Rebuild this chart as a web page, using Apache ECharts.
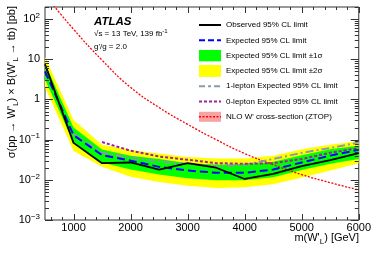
<!DOCTYPE html>
<html><head><meta charset="utf-8">
<script src="https://cdn.jsdelivr.net/npm/echarts@6/dist/echarts.min.js"></script>
<style>html,body{margin:0;padding:0;background:#fff}#c{width:374px;height:253px}</style>
</head><body><div id="c"></div>
<script>
// ---- data ----
const masses    = [500, 1000, 1500, 2000, 2500, 3000, 3500, 4000, 4500, 5000, 5500, 6000];
const observed  = [7.5, 0.083, 0.026, 0.027, 0.018, 0.026, 0.020, 0.0105, 0.014, 0.022, 0.031, 0.046];
const expected  = [5.0, 0.13, 0.041, 0.030, 0.021, 0.017, 0.015, 0.015, 0.018, 0.027, 0.040, 0.056];
const exp1sHi   = [7.8, 0.20, 0.057, 0.040, 0.033, 0.026, 0.024, 0.024, 0.028, 0.041, 0.058, 0.070];
const exp1sLo   = [3.2, 0.085, 0.027, 0.018, 0.0135, 0.011, 0.0097, 0.0097, 0.0116, 0.0175, 0.025, 0.033];
const exp2sHi   = [11.5, 0.31, 0.075, 0.055, 0.045, 0.037, 0.034, 0.034, 0.040, 0.058, 0.075, 0.092];
const exp2sLo   = [2.0, 0.052, 0.021, 0.012, 0.0088, 0.0071, 0.0063, 0.0065, 0.0078, 0.0115, 0.017, 0.026];
const lep1Exp   = [null, 0.14, 0.047, 0.036, 0.029, 0.0245, 0.0215, 0.0237, 0.033, 0.047, 0.062, 0.085];
const lep0Exp   = [null, null, 0.087, 0.053, 0.038, 0.0316, 0.026, 0.025, 0.026, 0.033, 0.047, 0.062];
const nloXsec   = [400, 56, 9.5, 2.0, 0.63, 0.24, 0.10, 0.045, 0.024, 0.0135, 0.0085, 0.0056];

const xMajorTicks = [1000, 2000, 3000, 4000, 5000, 6000];
const xMinorTicks = [600, 800, 1200, 1400, 1600, 1800, 2200, 2400, 2600, 2800, 3200, 3400, 3600, 3800,
                     4200, 4400, 4600, 4800, 5200, 5400, 5600, 5800];
const yMajorTicks = [0.001, 0.01, 0.1, 1, 10, 100];
const yMinorTicks = [0.002,0.003,0.004,0.005,0.006,0.007,0.008,0.009,
                     0.02,0.03,0.04,0.05,0.06,0.07,0.08,0.09,
                     0.2,0.3,0.4,0.5,0.6,0.7,0.8,0.9,
                     2,3,4,5,6,7,8,9,
                     20,30,40,50,60,70,80,90,200];

const names = {
  obs: 'Observed 95% CL limit',
  exp: 'Expected 95% CL limit',
  s1: 'Expected 95% CL limit \u00b11\u03c3',
  s2: 'Expected 95% CL limit \u00b12\u03c3',
  l1: '1-lepton Expected 95% CL limit',
  l0: '0-lepton Expected 95% CL limit',
  nlo: "NLO W' cross-section (ZTOP)"
};

const FONT = "'Liberation Sans', Arial, Helvetica, sans-serif";

function pairs(vals) {
  return masses.map((m, i) => [m, vals[i]]).filter(d => d[1] != null);
}

function band(name, lo, hi, color, z) {
  return {
    type: 'custom', name: name, coordinateSystem: 'cartesian2d', clip: true, silent: true, z: z,
    itemStyle: { color: color },
    data: [[masses[0], hi[0]]],
    renderItem: function (params, api) {
      const pts = [];
      for (let i = 0; i < masses.length; i++) pts.push(api.coord([masses[i], hi[i]]));
      for (let i = masses.length - 1; i >= 0; i--) pts.push(api.coord([masses[i], lo[i]]));
      return { type: 'polygon', shape: { points: pts }, style: { fill: color } };
    }
  };
}

function line(name, vals, color, width, dash, z, smooth) {
  return {
    type: 'line', name: name, data: pairs(vals), symbol: 'none', showSymbol: false, smooth: !!smooth,
    clip: true, z: z, silent: true,
    itemStyle: { color: color },
    lineStyle: { color: color, width: width, type: dash || 'solid' }
  };
}

function svgIcon(inner) {
  return 'image://data:image/svg+xml;charset=utf-8,' + encodeURIComponent(
    "<svg xmlns='http://www.w3.org/2000/svg' width='22' height='12'>" + inner + "</svg>");
}
function lineIcon(color, width, dash) {
  return svgIcon("<line x1='0' y1='6' x2='22' y2='6' stroke='" + color + "' stroke-width='" + width + "'" +
    (dash ? " stroke-dasharray='" + dash + "'" : "") + "/>");
}
function rectIcon(color) {
  return svgIcon("<rect width='22' height='12' fill='" + color + "'/>");
}

const supRich = { sup: { fontSize: 8, fontFamily: FONT, color: '#000', padding: [0, 0, 7, 0] } };

const chart = echarts.init(document.getElementById('c'), null, { renderer: 'canvas' });
chart.setOption({
  animation: false,
  backgroundColor: '#fff',
  textStyle: { fontFamily: FONT },
  grid: { left: 45, right: 15, top: 7, bottom: 33, show: true, borderColor: '#333', borderWidth: 1, backgroundColor: 'transparent' },
  xAxis: {
    type: 'value', min: 500, max: 6000, interval: 500,
    axisLine: { show: false }, axisTick: { show: false }, splitLine: { show: false },
    axisLabel: {
      color: '#000', fontSize: 11, fontFamily: FONT, margin: 2,
      formatter: function (v) { return (v % 1000 === 0) ? String(v) : ''; }
    }
  },
  yAxis: {
    type: 'log', logBase: 10, min: 0.001, max: 200,
    axisLine: { show: false }, axisTick: { show: false }, splitLine: { show: false },
    axisLabel: {
      color: '#000', fontSize: 11, fontFamily: FONT, margin: 5,
      rich: supRich,
      formatter: function (v) {
        const l = Math.log10(v), e = Math.round(l);
        if (Math.abs(l - e) > 0.01) return '';
        if (e === 0) return '1';
        if (e === 1) return '10';
        return '10{sup|' + (e < 0 ? '\u2212' + (-e) : e) + '}';
      }
    }
  },
  legend: {
    orient: 'vertical', left: 199, top: 19, padding: 0, itemWidth: 22, itemHeight: 12, itemGap: 3.3,
    selectedMode: false,
    textStyle: { fontSize: 8, color: '#000', fontFamily: FONT },
    data: [
      { name: names.obs, icon: lineIcon('#000000', 2) },
      { name: names.exp, icon: lineIcon('#0000ff', 2, '6,3') },
      { name: names.s1, icon: rectIcon('#00ff00') },
      { name: names.s2, icon: rectIcon('#ffff00') },
      { name: names.l1, icon: lineIcon('#8a9aa8', 2, '6,3,3,3') },
      { name: names.l0, icon: lineIcon('#a020a0', 2, '3,2') },
      { name: names.nlo, icon: svgIcon("<rect y='1' width='22' height='10' fill='#f7a3a3'/><line x1='0' y1='6' x2='22' y2='6' stroke='#ff0000' stroke-width='1.6' stroke-dasharray='2,1.5'/>") }
    ]
  },
  graphic: [
    { type: 'text', x: 94, y: 22, style: { text: 'ATLAS', font: 'italic bold 11.5px ' + FONT, fill: '#000', verticalAlign: 'middle' } },
    { type: 'text', x: 94, y: 34, style: { text: '\u221As = 13 TeV, 139 fb{sup|-1}', fill: '#000', fontSize: 8, fontFamily: FONT, verticalAlign: 'middle',
      rich: { sup: { fontSize: 6, fontFamily: FONT, padding: [0, 0, 5, 0] } } } },
    { type: 'text', x: 94, y: 47, style: { text: "g'/g = 2.0", fill: '#000', fontSize: 8, fontFamily: FONT, verticalAlign: 'middle' } },
    { type: 'text', x: 359, y: 238, style: { text: "m(W'{sub|L}) [GeV]", fill: '#000', fontSize: 11, fontFamily: FONT, align: 'right', verticalAlign: 'middle',
      rich: { sub: { fontSize: 8, fontFamily: FONT, padding: [8, 0, 0, 0] } } } },
    { type: 'text', x: 12, y: 6, rotation: Math.PI / 2, style: { text: "\u03c3(pp \u2192 W'{sub|L}) \u00d7 B(W'{sub|L} \u2192 tb) [pb]", fill: '#000', fontSize: 11, fontFamily: FONT, align: 'right', verticalAlign: 'middle',
      rich: { sub: { fontSize: 8, fontFamily: FONT, padding: [8, 0, 0, 0] } } } }
  ],
  series: [
    band(names.s2, exp2sLo, exp2sHi, '#ffff00', 1),
    band(names.s1, exp1sLo, exp1sHi, '#00ff00', 2),
    line(names.nlo, nloXsec, '#ff0000', 1.3, [2, 1.5], 3, true),
    line(names.l1, lep1Exp, '#8a9aa8', 2, [8, 3, 2, 3], 4),
    line(names.l0, lep0Exp, '#a020a0', 2, [3, 2], 5),
    line(names.exp, expected, '#0000ff', 2, [8, 4], 6),
    line(names.obs, observed, '#000000', 1.8, 'solid', 7),
    {
      type: 'custom', coordinateSystem: 'cartesian2d', silent: true, clip: false, z: 10,
      data: [[1000, 1]],
      renderItem: function (params, api) {
        const cs = params.coordSys;
        const left = cs.x, right = cs.x + cs.width, top = cs.y, bottom = cs.y + cs.height;
        const ch = [];
        const st = { stroke: '#333', lineWidth: 1 };
        const add = (x1, y1, x2, y2) => ch.push({ type: 'line', shape: { x1: x1, y1: y1, x2: x2, y2: y2 }, style: st });
        xMajorTicks.forEach(m => { const x = Math.round(api.coord([m, 1])[0]) + 0.5; add(x, bottom, x, bottom - 6); add(x, top, x, top + 6); });
        xMinorTicks.forEach(m => { const x = Math.round(api.coord([m, 1])[0]) + 0.5; add(x, bottom, x, bottom - 3); add(x, top, x, top + 3); });
        yMajorTicks.forEach(v => { const y = Math.round(api.coord([1000, v])[1]) + 0.5; add(left, y, left + 8, y); add(right, y, right - 8, y); });
        yMinorTicks.forEach(v => { const y = Math.round(api.coord([1000, v])[1]) + 0.5; add(left, y, left + 4, y); add(right, y, right - 4, y); });
        return { type: 'group', children: ch };
      }
    }
  ]
});
</script>
</body></html>
